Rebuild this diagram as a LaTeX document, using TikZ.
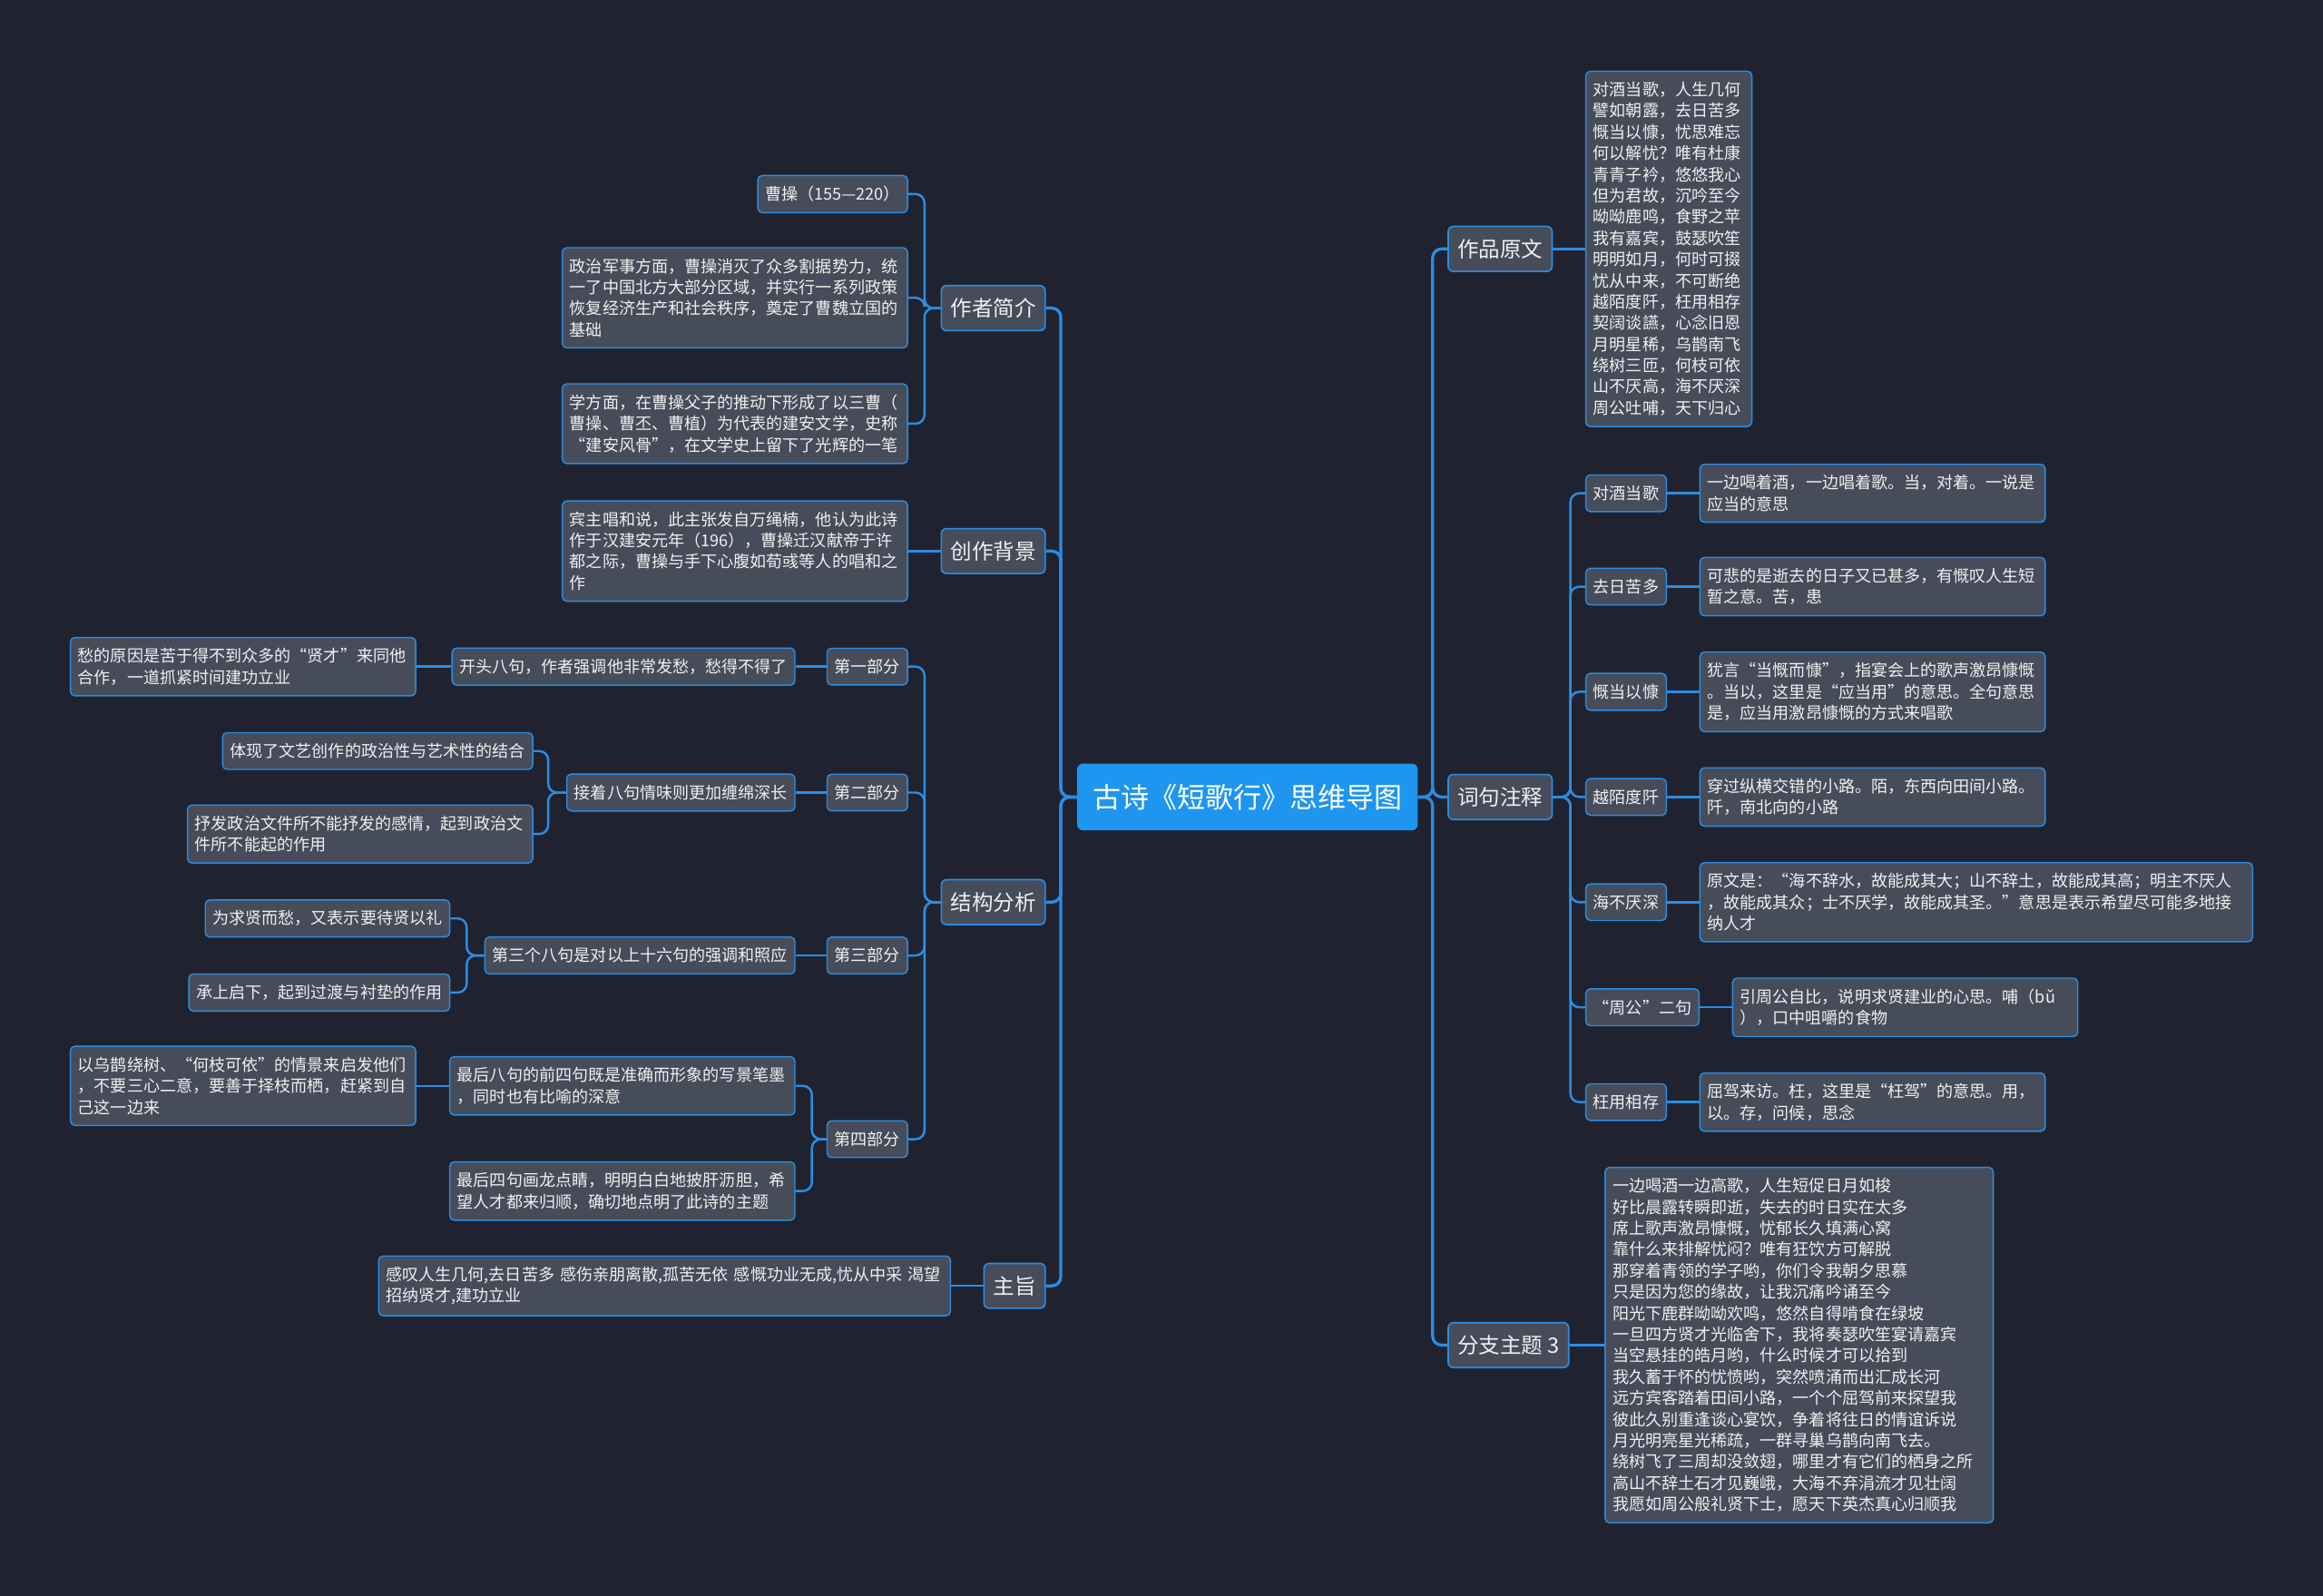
\documentclass[tikz,border=0pt]{standalone}
\usepackage{fontspec}
\setmainfont{Noto Sans CJK SC}
\definecolor{bgdark}{HTML}{20232F}
\definecolor{boxgray}{HTML}{474C5A}
\definecolor{linkblue}{HTML}{2A8DE4}
\definecolor{rootblue}{HTML}{1E96F0}
\definecolor{inkwhite}{HTML}{F0F0F0}

\begin{document}
\begin{tikzpicture}[x=0.4mm,y=-0.4mm,
  rootbox/.style={fill=rootblue, text=white, rounded corners=1.6mm, minimum width=92mm, minimum height=18mm, font=\fontsize{21.6pt}{26pt}\selectfont},
  topicbox/.style={fill=boxgray, draw=linkblue, line width=0.4mm, rounded corners=1.4mm, text=inkwhite, inner xsep=2.5mm, inner ysep=3.4mm, font=\fontsize{16.4pt}{20pt}\selectfont},
  leafbox/.style={fill=boxgray, draw=linkblue, line width=0.35mm, rounded corners=1.2mm, text=inkwhite, inner xsep=2mm, inner ysep=2.9mm, align=left, font=\fontsize{12.6pt}{16.3pt}\selectfont},
  link/.style={draw=linkblue, line width=0.6mm, rounded corners=2.4mm},
  mainlink/.style={link, line width=0.8mm}]
  \useasboundingbox (0,0) rectangle (1568,1077);
  \fill[bgdark] (-10,-10) rectangle (1578,1087);

  % Root
  \node[rootbox] (root) at (842,538) {古诗《短歌行》思维导图};

  % Left topics
  \node[topicbox, anchor=east] (author) at (706,208) {作者简介};
  \node[topicbox, anchor=east] (backdrop) at (706,372) {创作背景};
  \node[topicbox, anchor=east] (structure) at (706,609) {结构分析};
  \node[topicbox, anchor=east] (theme) at (706,868) {主旨};

  % Right topics
  \node[topicbox, anchor=west] (original) at (977,168) {作品原文};
  \node[topicbox, anchor=west] (notes) at (977,538) {词句注释};
  \node[topicbox, anchor=west] (branch) at (977,908) {分支主题 3};

  \foreach \t in {author,backdrop,structure,theme}
    \draw[mainlink] (root.west) -- (716,538) |- (\t.east);
  \foreach \t in {original,notes,branch}
    \draw[mainlink] (root.east) -- (967,538) |- (\t.west);

  % Author
  \node[leafbox, anchor=east] (caocao) at (613,131) {曹操（155—220）};
  \node[leafbox, anchor=east, text width=89.2mm] (politics) at (613,201) {政治军事方面，曹操消灭了众多割据势力，统\\一了中国北方大部分区域，并实行一系列政策\\恢复经济生产和社会秩序，奠定了曹魏立国的\\基础};
  \node[leafbox, anchor=east, text width=89.2mm] (letters) at (613,286) {学方面，在曹操父子的推动下形成了以三曹（\\曹操、曹丕、曹植）为代表的建安文学，史称\\“建安风骨”，在文学史上留下了光辉的一笔};
  \foreach \t in {caocao,politics,letters}
    \draw[link] (author.west) -- (624,208) |- (\t.east);

  % Backdrop
  \node[leafbox, anchor=east, text width=89.2mm] (context) at (613,372) {宾主唱和说，此主张发自万绳楠，他认为此诗\\作于汉建安元年（196），曹操迁汉献帝于许\\都之际，曹操与手下心腹如荀彧等人的唱和之\\作};
  \draw[link] (backdrop.west) -- (context.east);

  % Structure
  \node[leafbox, anchor=east] (part1) at (613,450) {第一部分};
  \node[leafbox, anchor=east] (part2) at (613,535) {第二部分};
  \node[leafbox, anchor=east] (part3) at (613,645) {第三部分};
  \node[leafbox, anchor=east] (part4) at (613,769) {第四部分};
  \foreach \t in {part1,part2,part3,part4}
    \draw[link] (structure.west) -- (624,609) |- (\t.east);

  \node[leafbox, anchor=east] (p1a) at (537,450) {开头八句，作者强调他非常发愁，愁得不得了};
  \node[leafbox, anchor=east, text width=89.2mm] (p1b) at (281,450) {愁的原因是苦于得不到众多的“贤才”来同他\\合作，一道抓紧时间建功立业};
  \draw[link] (part1.west) -- (p1a.east);
  \draw[link] (p1a.west) -- (p1b.east);

  \node[leafbox, anchor=east] (p2a) at (537,535) {接着八句情味则更加缠绵深长};
  \node[leafbox, anchor=east] (p2b) at (360,507) {体现了文艺创作的政治性与艺术性的结合};
  \node[leafbox, anchor=east, text width=89.2mm] (p2c) at (360,563) {抒发政治文件所不能抒发的感情，起到政治文\\件所不能起的作用};
  \draw[link] (part2.west) -- (p2a.east);
  \foreach \t in {p2b,p2c}
    \draw[link] (p2a.west) -- (370,535) |- (\t.east);

  \node[leafbox, anchor=east] (p3a) at (537,645) {第三个八句是对以上十六句的强调和照应};
  \node[leafbox, anchor=east] (p3b) at (304,620) {为求贤而愁，又表示要待贤以礼};
  \node[leafbox, anchor=east] (p3c) at (304,670) {承上启下，起到过渡与衬垫的作用};
  \draw[link] (part3.west) -- (p3a.east);
  \foreach \t in {p3b,p3c}
    \draw[link] (p3a.west) -- (315,645) |- (\t.east);

  \node[leafbox, anchor=east, text width=89.2mm] (p4a) at (537,733) {最后八句的前四句既是准确而形象的写景笔墨\\，同时也有比喻的深意};
  \node[leafbox, anchor=east, text width=89.2mm] (p4b) at (537,804) {最后四句画龙点睛，明明白白地披肝沥胆，希\\望人才都来归顺，确切地点明了此诗的主题};
  \node[leafbox, anchor=east, text width=89.2mm] (p4c) at (281,733) {以乌鹊绕树、“何枝可依”的情景来启发他们\\，不要三心二意，要善于择枝而栖，赶紧到自\\己这一边来};
  \foreach \t in {p4a,p4b}
    \draw[link] (part4.west) -- (548,769) |- (\t.east);
  \draw[link] (p4a.west) -- (p4c.east);

  % Theme
  \node[leafbox, anchor=east, text width=150.4mm] (gist) at (642,868) {感叹人生几何,去日苦多 感伤亲朋离散,孤苦无依 感慨功业无成,忧从中采 渴望\\招纳贤才,建功立业};
  \draw[link] (theme.west) -- (gist.east);

  % Original poem
  \node[leafbox, anchor=west, text width=40.8mm] (poem) at (1070,168) {对酒当歌，人生几何\\譬如朝露，去日苦多\\慨当以慷，忧思难忘\\何以解忧？唯有杜康\\青青子衿，悠悠我心\\但为君故，沉吟至今\\呦呦鹿鸣，食野之苹\\我有嘉宾，鼓瑟吹笙\\明明如月，何时可掇\\忧从中来，不可断绝\\越陌度阡，枉用相存\\契阔谈讌，心念旧恩\\月明星稀，乌鹊南飞\\绕树三匝，何枝可依\\山不厌高，海不厌深\\周公吐哺，天下归心};
  \draw[link] (original.east) -- (poem.west);

  % Notes
  \node[leafbox, anchor=west] (term1) at (1070,333) {对酒当歌};
  \node[leafbox, anchor=west] (term2) at (1070,396) {去日苦多};
  \node[leafbox, anchor=west] (term3) at (1070,467) {慨当以慷};
  \node[leafbox, anchor=west] (term4) at (1070,538) {越陌度阡};
  \node[leafbox, anchor=west] (term5) at (1070,609) {海不厌深};
  \node[leafbox, anchor=west] (term6) at (1070,680) {“周公”二句};
  \node[leafbox, anchor=west] (term7) at (1070,744) {枉用相存};
  \foreach \i in {1,...,7}
    \draw[link] (notes.east) -- (1060,538) |- (term\i.west);

  \node[leafbox, anchor=west, text width=89.2mm] (gloss1) at (1147,333) {一边喝着酒，一边唱着歌。当，对着。一说是\\应当的意思};
  \node[leafbox, anchor=west, text width=89.2mm] (gloss2) at (1147,396) {可悲的是逝去的日子又已甚多，有慨叹人生短\\暂之意。苦，患};
  \node[leafbox, anchor=west, text width=89.2mm] (gloss3) at (1147,467) {犹言“当慨而慷”，指宴会上的歌声激昂慷慨\\。当以，这里是“应当用”的意思。全句意思\\是，应当用激昂慷慨的方式来唱歌};
  \node[leafbox, anchor=west, text width=89.2mm] (gloss4) at (1147,538) {穿过纵横交错的小路。陌，东西向田间小路。\\阡，南北向的小路};
  \node[leafbox, anchor=west, text width=145.2mm] (gloss5) at (1147,609) {原文是：“海不辞水，故能成其大；山不辞土，故能成其高；明主不厌人\\，故能成其众；士不厌学，故能成其圣。”意思是表示希望尽可能多地接\\纳人才};
  \node[leafbox, anchor=west, text width=89.2mm] (gloss6) at (1169,680) {引周公自比，说明求贤建业的心思。哺（bǔ\\），口中咀嚼的食物};
  \node[leafbox, anchor=west, text width=89.2mm] (gloss7) at (1147,744) {屈驾来访。枉，这里是“枉驾”的意思。用，\\以。存，问候，思念};
  \foreach \i in {1,...,7}
    \draw[link] (term\i.east) -- (gloss\i.west);

  % Branch 3
  \node[leafbox, anchor=west, text width=100.8mm] (modern) at (1083,908) {一边喝酒一边高歌，人生短促日月如梭\\好比晨露转瞬即逝，失去的时日实在太多\\席上歌声激昂慷慨，忧郁长久填满心窝\\靠什么来排解忧闷？唯有狂饮方可解脱\\那穿着青领的学子哟，你们令我朝夕思慕\\只是因为您的缘故，让我沉痛吟诵至今\\阳光下鹿群呦呦欢鸣，悠然自得啃食在绿坡\\一旦四方贤才光临舍下，我将奏瑟吹笙宴请嘉宾\\当空悬挂的皓月哟，什么时候才可以拾到\\我久蓄于怀的忧愤哟，突然喷涌而出汇成长河\\远方宾客踏着田间小路，一个个屈驾前来探望我\\彼此久别重逢谈心宴饮，争着将往日的情谊诉说\\月光明亮星光稀疏，一群寻巢乌鹊向南飞去。\\绕树飞了三周却没敛翅，哪里才有它们的栖身之所\\高山不辞土石才见巍峨，大海不弃涓流才见壮阔\\我愿如周公般礼贤下士，愿天下英杰真心归顺我};
  \draw[link] (branch.east) -- (modern.west);
\end{tikzpicture}
\end{document}
